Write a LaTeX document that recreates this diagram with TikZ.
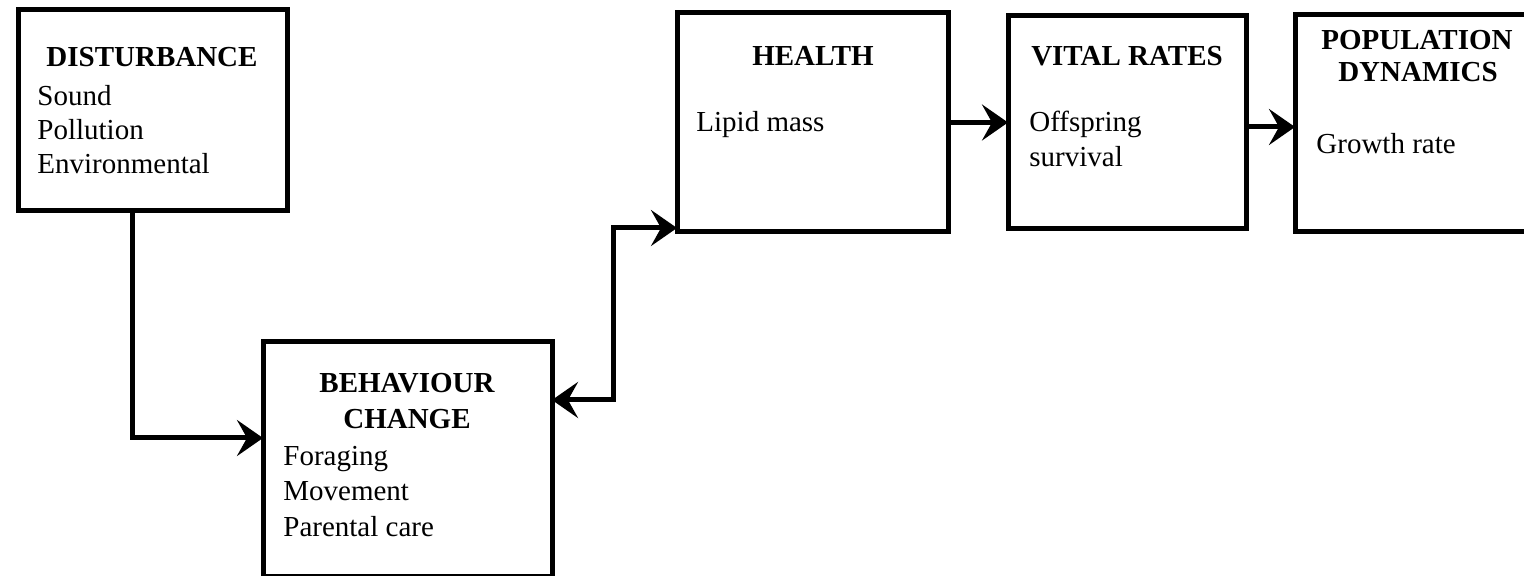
\documentclass[tikz,border=0pt]{standalone}
\usepackage{fontspec}
\setmainfont{Liberation Serif}
\usetikzlibrary{arrows.meta}
\begin{document}
\begin{tikzpicture}[x=0.5pt,y=-0.5pt,
  box/.style={draw,line width=2.5pt,rectangle,inner sep=0pt,outer sep=0pt},
  title/.style={anchor=base,inner sep=0pt,font=\fontsize{14.5pt}{17pt}\selectfont\bfseries},
  item/.style={anchor=base west,inner sep=0pt,font=\fontsize{14.5pt}{17pt}\selectfont},
  tip/.tip={Stealth[length=13pt,width=18pt,inset=5pt]},
  arr/.style={line width=2.5pt,-tip},
  arrboth/.style={line width=2.5pt,tip-tip}]
\useasboundingbox (0,0) rectangle (1524,576);

% boxes
\node[box,minimum width=134.5pt,minimum height=100.5pt] (dist) at (152.5,110.5) {};
\node[box,minimum width=144.5pt,minimum height=117pt] (beh) at (407.5,459) {};
\node[box,minimum width=135.5pt,minimum height=109.5pt] (health) at (812.5,122.5) {};
\node[box,minimum width=119pt,minimum height=106.5pt] (vital) at (1127,122.5) {};
\node[box,minimum width=137.5pt,minimum height=108.5pt] (pop) at (1432.5,123.5) {};

% disturbance
\node[title] (distT) at (152,67) {DISTURBANCE};
\node[item] (distA) at (37,106) {Sound};
\node[item] (distB) at (37,140) {Pollution};
\node[item] (distC) at (37,174) {Environmental};

% behaviour change
\node[title] (behT1) at (407,393) {BEHAVIOUR};
\node[title] (behT2) at (407,429) {CHANGE};
\node[item] (behA) at (283,466) {Foraging};
\node[item] (behB) at (283,500) {Movement};
\node[item] (behC) at (283,536) {Parental care};

% health
\node[title] (healthT) at (813,66) {HEALTH};
\node[item] (healthA) at (696,132) {Lipid mass};

% vital rates
\node[title] (vitalT) at (1127,66) {VITAL RATES};
\node[item] (vitalA) at (1029,132) {Offspring};
\node[item] (vitalB) at (1029,167) {survival};

% population dynamics
\node[title] (popT1) at (1417,50) {POPULATION};
\node[title] (popT2) at (1418,82) {DYNAMICS};
\node[item] (popA) at (1316,154) {Growth rate};

% connectors
\coordinate (c1) at (132,438);
\coordinate (c2) at (613,400);
\coordinate (c3) at (613,228);
\coordinate (c4) at (0,127);
\draw[arr] (dist.south -| c1) |- (beh.west |- c1);
\draw[arrboth] (beh.east |- c2) -- (c2) -- (c3) -- (health.west |- c3);
\draw[arr] (health.east) -- (vital.west);
\draw[arr] (vital.east |- c4) -- (pop.west |- c4);
\end{tikzpicture}
\end{document}
